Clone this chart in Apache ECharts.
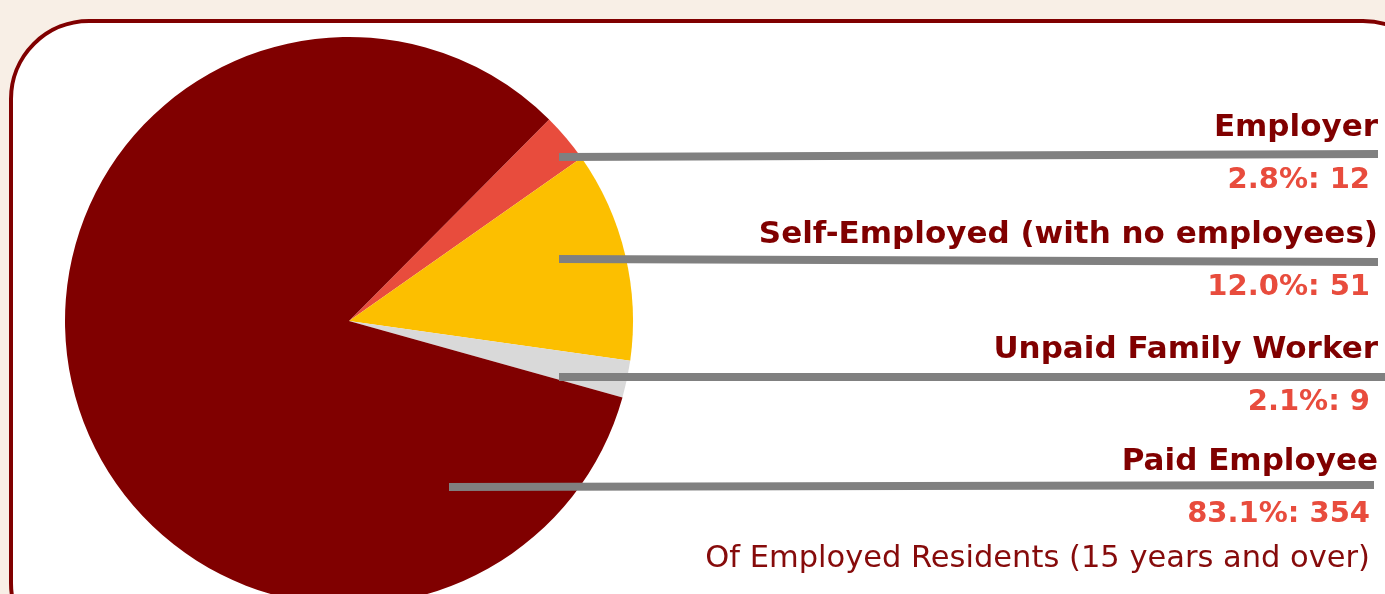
<!DOCTYPE html>
<html>
<head>
<meta charset="utf-8">
<script src="https://cdn.jsdelivr.net/npm/echarts@6/dist/echarts.min.js"></script>
<style>
    html, body { margin: 0; padding: 0; background: #f8efe6; }
    #pie { width: 1385px; height: 594px; }
</style>
</head>
<body>
<div id="pie"></div>
<script>
    // data
    var categories = ['Employer', 'Self-Employed (with no employees)', 'Unpaid Family Worker', 'Paid Employee'];
    var counts = [12, 51, 9, 354];
    var sliceColors = ['#e84c3d', '#fcbf00', '#d9d9d9', '#800000'];
    var footnote = 'Of Employed Residents (15 years and over)';

    // where each label and its leader line go
    var labelY = [154, 261, 376, 488];
    var linePts = [
        [[559, 157], [1378, 154]],
        [[559, 259], [1378, 262]],
        [[559, 377], [1390, 377]],
        [[449, 487], [1374, 485]]
    ];

    var total = counts.reduce(function (a, b) { return a + b; }, 0);
    var font = 'DejaVu Sans';

    var myChart = echarts.init(document.getElementById('pie'));
    myChart.setOption({
        animation: false,
        backgroundColor: '#f8efe6',
        title: {
            text: footnote,
            right: 10,
            top: 539,
            textStyle: {
                fontFamily: font,
                fontWeight: 'normal',
                fontSize: 30.5,
                color: '#860b0b'
            }
        },
        graphic: [{
            type: 'rect',
            z: -10,
            shape: { x: 11, y: 21, width: 1430, height: 640, r: 78 },
            style: { fill: '#ffffff', stroke: '#800000', lineWidth: 4 }
        }],
        series: [{
            // the slices
            type: 'pie',
            z: 2,
            center: [349, 321],
            radius: 284,
            startAngle: 45.2,
            silent: true,
            label: { show: false },
            labelLine: { show: false },
            data: categories.map(function (c, i) {
                return { name: c, value: counts[i], itemStyle: { color: sliceColors[i] } };
            })
        }, {
            // same slices again, invisible, only to carry the labels and
            // leader lines above the coloured ones
            type: 'pie',
            z: 3,
            center: [349, 321],
            radius: 284,
            startAngle: 45.2,
            silent: true,
            avoidLabelOverlap: false,
            itemStyle: { color: 'rgba(0,0,0,0)' },
            data: categories.map(function (c, i) {
                return { name: c, value: counts[i] };
            }),
            label: {
                show: true,
                position: 'outside',
                align: 'right',
                formatter: function (p) {
                    var pct = (p.value / total * 100).toFixed(1);
                    return '{n|' + p.name + '}\n{v|' + pct + '%: ' + p.value + '}';
                },
                rich: {
                    n: {
                        fontFamily: font,
                        fontWeight: 'bold',
                        fontSize: 31,
                        color: '#800000',
                        lineHeight: 52,
                        align: 'right'
                    },
                    v: {
                        fontFamily: font,
                        fontWeight: 'bold',
                        fontSize: 29,
                        color: '#e84c3d',
                        lineHeight: 52,
                        align: 'right',
                        padding: [0, 8, 0, 0]
                    }
                }
            },
            labelLine: {
                show: true,
                lineStyle: { color: '#808080', width: 8 }
            },
            labelLayout: function (params) {
                var i = params.dataIndex;
                return {
                    x: 1378,
                    y: labelY[i],
                    align: 'right',
                    verticalAlign: 'middle',
                    labelLinePoints: linePts[i]
                };
            }
        }]
    });
</script>
</body>
</html>
